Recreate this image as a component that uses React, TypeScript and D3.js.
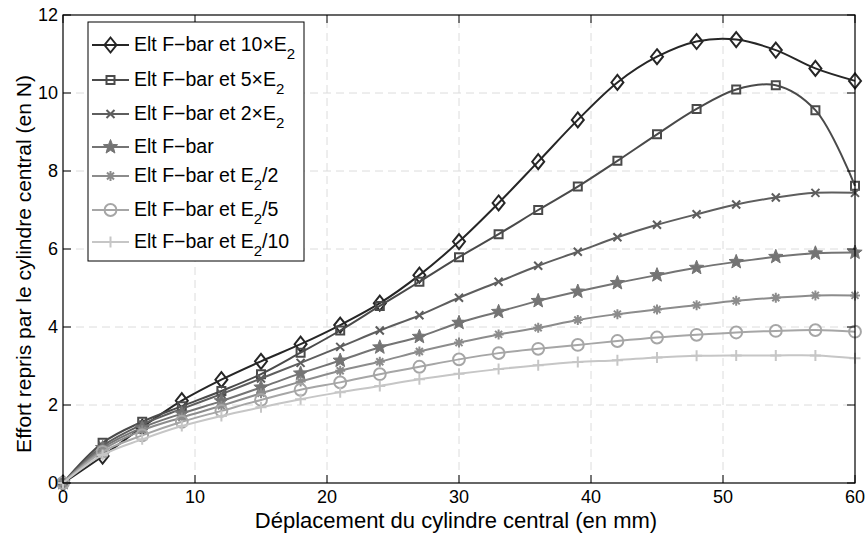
import * as d3 from "d3";

// Sample positions (mm) and measured force (N) for each E2 variant.
const displacement = [0, 3, 6, 9, 12, 15, 18, 21, 24, 27, 30, 33, 36, 39, 42, 45, 48, 51, 54, 57, 60];

const e2x10 = [0, 0.69, 1.43, 2.11, 2.65, 3.12, 3.56, 4.05, 4.61, 5.33, 6.19, 7.18, 8.24, 9.31, 10.27, 10.93, 11.32, 11.37, 11.1, 10.63, 10.31];
const e2x5 = [0, 1.03, 1.57, 1.97, 2.36, 2.79, 3.34, 3.91, 4.54, 5.16, 5.79, 6.38, 7.0, 7.6, 8.26, 8.94, 9.59, 10.09, 10.2, 9.56, 7.62];
const e2x2 = [0, 0.95, 1.5, 1.9, 2.28, 2.68, 3.08, 3.49, 3.91, 4.3, 4.75, 5.16, 5.57, 5.93, 6.3, 6.62, 6.89, 7.14, 7.32, 7.44, 7.44];
const fbar = [0, 0.9, 1.42, 1.78, 2.1, 2.45, 2.81, 3.14, 3.48, 3.75, 4.11, 4.39, 4.67, 4.91, 5.13, 5.33, 5.52, 5.67, 5.8, 5.89, 5.91];
const e2d2 = [0, 0.85, 1.35, 1.68, 1.98, 2.3, 2.6, 2.88, 3.11, 3.37, 3.6, 3.81, 3.98, 4.18, 4.33, 4.45, 4.56, 4.67, 4.75, 4.81, 4.81];
const e2d5 = [0, 0.8, 1.22, 1.57, 1.85, 2.13, 2.39, 2.58, 2.79, 2.98, 3.17, 3.33, 3.44, 3.54, 3.64, 3.73, 3.8, 3.86, 3.9, 3.92, 3.88];
const e2d10 = [0, 0.72, 1.12, 1.46, 1.72, 1.94, 2.15, 2.33, 2.49, 2.66, 2.8, 2.92, 3.02, 3.1, 3.15, 3.22, 3.26, 3.27, 3.27, 3.27, 3.2];

const xTicks = [0, 10, 20, 30, 40, 50, 60];
const yTicks = [0, 2, 4, 6, 8, 10, 12];

const xLabel = "Déplacement du cylindre central (en mm)";
const yLabel = "Effort repris par le cylindre central (en N)";

type Marker = "diamond" | "square" | "cross" | "star" | "asterisk" | "circle" | "plus";

const series: { values: number[]; marker: Marker; color: string; pre: string; sub?: string; post?: string }[] = [
  { values: e2x10, marker: "diamond", color: "#262626", pre: "Elt F\u2212bar et 10\u00d7E", sub: "2" },
  { values: e2x5, marker: "square", color: "#4a4a4a", pre: "Elt F\u2212bar et 5\u00d7E", sub: "2" },
  { values: e2x2, marker: "cross", color: "#5e5e5e", pre: "Elt F\u2212bar et 2\u00d7E", sub: "2" },
  { values: fbar, marker: "star", color: "#747474", pre: "Elt F\u2212bar" },
  { values: e2d2, marker: "asterisk", color: "#8c8c8c", pre: "Elt F\u2212bar et E", sub: "2", post: "/2" },
  { values: e2d5, marker: "circle", color: "#a6a6a6", pre: "Elt F\u2212bar et E", sub: "2", post: "/5" },
  { values: e2d10, marker: "plus", color: "#c6c6c6", pre: "Elt F\u2212bar et E", sub: "2", post: "/10" },
];

const width = 865;
const height = 534;
const margin = { top: 15, right: 10, bottom: 51, left: 63 };
const font = "'Liberation Sans', Arial, sans-serif";

function markerPath(m: Marker): string {
  switch (m) {
    case "diamond":
      return "M0,-7.5L6,0L0,7.5L-6,0Z";
    case "square":
      return "M-4,-4H4V4H-4Z";
    case "cross":
      return "M-4,-4L4,4M-4,4L4,-4";
    case "asterisk":
      return "M-5,0H5M0,-5V5M-3.5,-3.5L3.5,3.5M-3.5,3.5L3.5,-3.5";
    case "plus":
      return "M-5.5,0H5.5M0,-5.5V5.5";
    case "circle":
      return d3.symbol(d3.symbolCircle, 110)()!;
    case "star": {
      const pts: string[] = [];
      for (let i = 0; i < 10; i++) {
        const r = i % 2 === 0 ? 7.5 : 3.2;
        const a = (Math.PI / 5) * i - Math.PI / 2;
        pts.push(`${(r * Math.cos(a)).toFixed(2)},${(r * Math.sin(a)).toFixed(2)}`);
      }
      return "M" + pts.join("L") + "Z";
    }
  }
}

function MarkerShape({ m, color, x, y }: { m: Marker; color: string; x: number; y: number }) {
  const filled = m === "star";
  return (
    <path
      d={markerPath(m)}
      transform={`translate(${x},${y})`}
      fill={filled ? color : "none"}
      stroke={color}
      strokeWidth={filled ? 1 : 2}
    />
  );
}

export default function App() {
  const x = d3
    .scaleLinear()
    .domain([0, 60])
    .range([margin.left, width - margin.right]);
  const y = d3
    .scaleLinear()
    .domain([0, 12])
    .range([height - margin.bottom, margin.top]);

  const line = d3
    .line<number>()
    .x((_, i) => x(displacement[i]))
    .y((d) => y(d))
    .curve(d3.curveCatmullRom.alpha(0.5));

  const x0 = x(0);
  const x1 = x(60);
  const y0 = y(0);
  const y1 = y(12);
  const tickLen = 8;

  // legend rows (centre of line sample)
  const legendRows = [45, 80, 114, 147, 176, 210, 242];

  return (
    <svg
      width={width}
      height={height}
      style={{ position: "absolute", left: 0, top: 0, background: "#fff" }}
      fontFamily={font}
    >
      {/* grid */}
      <g stroke="#dcdcdc" strokeWidth={1} strokeDasharray="8,5">
        {xTicks.slice(1, -1).map((t) => (
          <line key={"gx" + t} x1={x(t)} x2={x(t)} y1={y0} y2={y1} />
        ))}
        {yTicks.slice(1, -1).map((t) => (
          <line key={"gy" + t} x1={x0} x2={x1} y1={y(t)} y2={y(t)} />
        ))}
      </g>

      {/* curves */}
      {series.map((s) => (
        <g key={s.pre + (s.post ?? "") + s.marker}>
          <path d={line(s.values)!} fill="none" stroke={s.color} strokeWidth={2} />
          {s.values.map((v, i) => (
            <MarkerShape key={i} m={s.marker} color={s.color} x={x(displacement[i])} y={y(v)} />
          ))}
        </g>
      ))}

      {/* axes box and ticks */}
      <rect x={x0} y={y1} width={x1 - x0} height={y0 - y1} fill="none" stroke="#000" strokeWidth={1.2} />
      <g stroke="#000" strokeWidth={1}>
        {xTicks.map((t) => (
          <g key={"tx" + t}>
            <line x1={x(t)} x2={x(t)} y1={y0} y2={y0 - tickLen} />
            <line x1={x(t)} x2={x(t)} y1={y1} y2={y1 + tickLen} />
          </g>
        ))}
        {yTicks.map((t) => (
          <g key={"ty" + t}>
            <line x1={x0} x2={x0 + tickLen} y1={y(t)} y2={y(t)} />
            <line x1={x1} x2={x1 - tickLen} y1={y(t)} y2={y(t)} />
          </g>
        ))}
      </g>

      {/* tick labels */}
      <g fontSize={18} fill="#000">
        {xTicks.map((t) => (
          <text key={"lx" + t} x={x(t)} y={y0 + 20} textAnchor="middle">
            {t}
          </text>
        ))}
        {yTicks.map((t) => (
          <text key={"ly" + t} x={x0 - 5} y={y(t)} dy="0.35em" textAnchor="end">
            {t}
          </text>
        ))}
      </g>

      {/* axis titles */}
      <text x={(x0 + x1) / 2 - 3} y={height - 6} textAnchor="middle" fontSize={22}>
        {xLabel}
      </text>
      <text
        transform={`translate(31,264) rotate(-90)`}
        textAnchor="middle"
        fontSize={21}
      >
        {yLabel}
      </text>

      {/* legend */}
      <rect x={88} y={22} width={216} height={239} fill="#fff" stroke="#000" strokeWidth={1} />
      {series.map((s, i) => {
        const cy = legendRows[i];
        return (
          <g key={"lg" + i}>
            <line x1={92} x2={129} y1={cy} y2={cy} stroke={s.color} strokeWidth={2} />
            <MarkerShape m={s.marker} color={s.color} x={110.5} y={cy} />
            <text x={134} y={cy + 6} fontSize={19.5} fill="#000">
              {s.pre}
              {s.sub && (
                <tspan fontSize={15} dy={8}>
                  {s.sub}
                </tspan>
              )}
              {s.post && <tspan dy={-8}>{s.post}</tspan>}
            </text>
          </g>
        );
      })}
    </svg>
  );
}
